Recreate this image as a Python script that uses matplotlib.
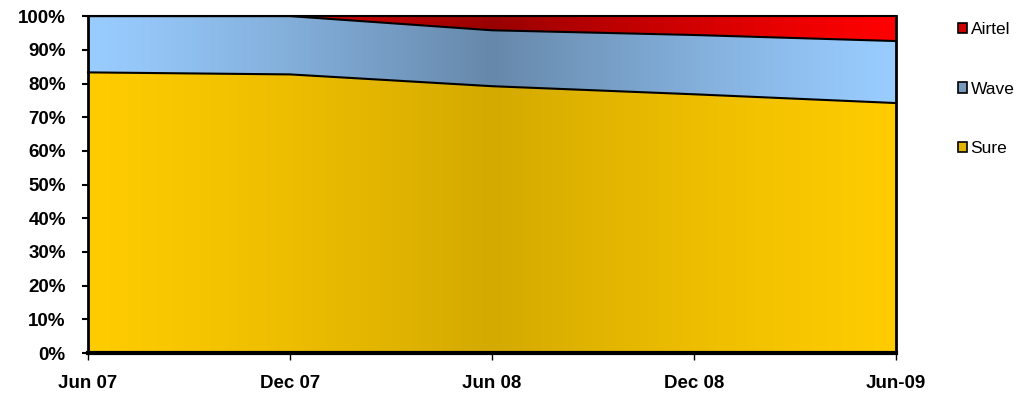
import matplotlib
matplotlib.use('Agg')
import matplotlib.pyplot as plt
import numpy as np
from matplotlib.colors import to_rgb
from matplotlib.patches import Patch

plt.rcParams['font.family'] = ['Liberation Sans', 'DejaVu Sans']

periods = ['Jun 07', 'Dec 07', 'Jun 08', 'Dec 08', 'Jun-09']
sure = [83.3, 82.7, 79.2, 76.8, 74.2]
wave = [16.7, 17.3, 16.6, 17.6, 18.4]
airtel = [0.0, 0.0, 4.2, 5.6, 7.4]

series = [
    ('Sure', sure, '#FFCC00', '#D4AA00', '#E0B400'),
    ('Wave', wave, '#99CCFF', '#6688AA', '#7799BB'),
    ('Airtel', airtel, '#FF0000', '#990000', '#CC0000'),
]

fig = plt.figure(figsize=(10.22, 4.03), dpi=100)
ax = fig.add_axes([0.0861, 0.124, 0.7906, 0.836])

x = np.arange(len(periods))
xs = np.linspace(0, len(periods) - 1, 400)
# darkness peaks at the middle of the plot
weight = 1 - np.abs(xs - xs.mean()) / xs.mean()
weight = np.clip(weight, 0, 1) ** 1.2

bottom = np.zeros(len(periods))
handles = []
for name, vals, edge_col, mid_col, leg_col in series:
    vals = np.array(vals)
    top = bottom + vals
    c1, c2 = np.array(to_rgb(edge_col)), np.array(to_rgb(mid_col))
    img = c1[None, :] * (1 - weight[:, None]) + c2[None, :] * weight[:, None]
    img = img[None, :, :]
    poly = ax.fill_between(x, bottom, top, facecolor='none', edgecolor='none')
    im = ax.imshow(img, extent=[0, len(periods) - 1, 0, 100], aspect='auto',
                   origin='lower', zorder=1)
    im.set_clip_path(poly.get_paths()[0], transform=ax.transData)
    ax.plot(x, top, color='black', lw=1.5, zorder=3, clip_on=False)
    handles.append(Patch(facecolor=leg_col, edgecolor='black', lw=1.2, label=name))
    bottom = top

ax.set_xlim(0, len(periods) - 1)
ax.set_ylim(0, 100)
ax.set_xticks(x)
ax.set_xticklabels(periods, fontsize=13.5, fontweight='bold')
ax.set_yticks(np.arange(0, 101, 10))
ax.set_yticklabels([f'{v}%' for v in range(0, 101, 10)], fontsize=13.5, fontweight='bold')
ax.tick_params(axis='y', length=4, width=1.5, direction='out', pad=12)
ax.tick_params(axis='x', length=5, width=1, direction='out', pad=11)
ax.spines['top'].set_visible(False)
ax.spines['left'].set_linewidth(2)
ax.spines['right'].set_linewidth(2)
ax.spines['bottom'].set_linewidth(3)

leg = fig.legend(handles=handles[::-1], loc='upper left', bbox_to_anchor=(0.937, 0.945),
                 frameon=False, fontsize=12.5, handlelength=0.55, handleheight=0.55,
                 handletextpad=0.2, labelspacing=2.56, borderpad=0, borderaxespad=0)

fig.savefig('out.png', dpi=100)
